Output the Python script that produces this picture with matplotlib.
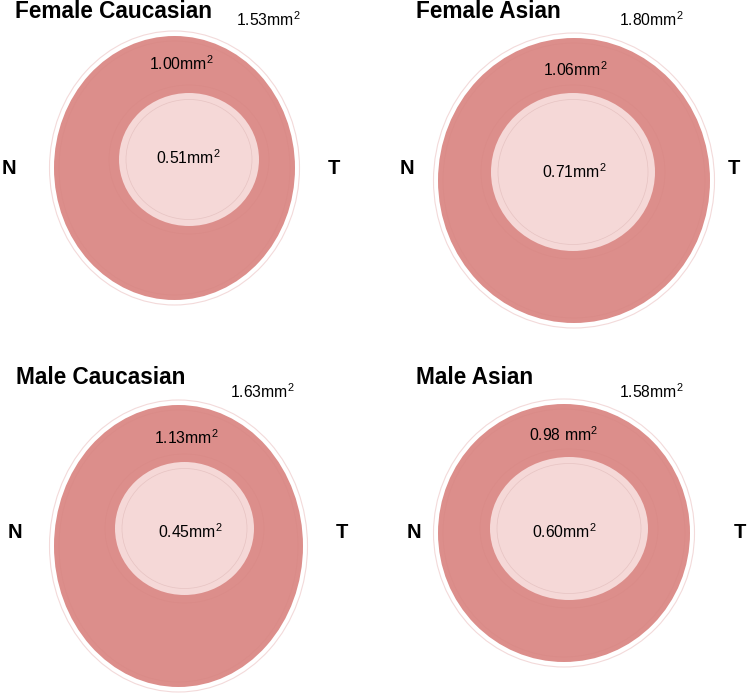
import matplotlib
matplotlib.use("Agg")
import matplotlib.pyplot as plt
from matplotlib.patches import Ellipse

plt.rcParams['font.family'] = ['Liberation Sans', 'DejaVu Sans']
plt.rcParams['mathtext.fontset'] = 'custom'
plt.rcParams['mathtext.rm'] = 'Liberation Sans'
plt.rcParams['mathtext.it'] = 'Liberation Sans'
plt.rcParams['mathtext.bf'] = 'Liberation Sans:bold'

# ---- data ----
titles = ["Female Caucasian", "Female Asian", "Male Caucasian", "Male Asian"]
outer_area = [1.53, 1.80, 1.63, 1.58]
mid_area = [1.00, 1.06, 1.13, 0.98]
inner_area = [0.51, 0.71, 0.45, 0.60]
mid_sep = ["", "", "", " "]
# ellipse widths / heights (px) of filled zone and inner zone
fill_w = [241, 272, 249, 252]
fill_h = [264, 285, 282, 258]
inner_w = [140, 164, 139, 158]
inner_h = [133, 158, 133, 143]

# ---- layout ----
offsets = [(0, 0), (375, 0), (0, 350), (375, 350)]
fill_c = [(174.5, 168), (199, 180.5), (178.5, 196), (189, 183)]
inner_c = [(189, 159.5), (198, 172), (184.5, 178.5), (194, 178.5)]
title_x = [15, 41, 16, 41]
title_y = [12, 12, 28, 28]
outer_lbl = [(268, 20), (276, 20), (262, 42), (276, 42)]
mid_lbl = [(181, 64), (200, 70), (186, 88), (188, 85)]
inner_lbl = [(188, 158), (199, 172), (190, 182), (189, 182)]
N_pos = [(9, 168), (32, 168), (15, 183), (39, 183)]
T_pos = [(334, 168), (359, 168), (342, 183), (365, 183)]

RED = "#DC8E8B"
LIGHT = "#F5D8D7"
LINE = "#F3DADA"
RING = "#D4837F"


def lab(v, sep=""):
    return f"{v:.2f}{sep}mm$^2$"


fig = plt.figure(figsize=(7.5, 6.95), dpi=100)
ax = fig.add_axes([0, 0, 1, 1])
ax.set_xlim(0, 750)
ax.set_ylim(695, 0)
ax.axis("off")

for i in range(4):
    ox, oy = offsets[i]
    fcx, fcy = fill_c[i][0] + ox, fill_c[i][1] + oy
    icx, icy = inner_c[i][0] + ox, inner_c[i][1] + oy
    fw, fh = fill_w[i], fill_h[i]
    iw, ih = inner_w[i], inner_h[i]
    # outer thin outline
    ax.add_patch(Ellipse((fcx, fcy), fw + 9, fh + 10, fc="none", ec=LINE, lw=0.8))
    # filled red zone
    ax.add_patch(Ellipse((fcx, fcy), fw, fh, fc=RED, ec="none"))
    ax.add_patch(Ellipse((fcx, fcy), fw - 10, fh - 10, fc="none", ec=RING, lw=0.5, alpha=0.3))
    # ring around inner
    ax.add_patch(Ellipse((icx, icy), iw + 20, ih + 16, fc="none", ec=RING, lw=0.5, alpha=0.3))
    # inner light zone
    ax.add_patch(Ellipse((icx, icy), iw, ih, fc=LIGHT, ec="none"))
    ax.add_patch(Ellipse((icx, icy), iw - 14, ih - 13, fc="none", ec="#E6C3C2", lw=0.5))

    ax.text(title_x[i] + ox, title_y[i] + oy, titles[i], fontsize=16.3, fontweight="bold",
            ha="left", va="center")
    ax.text(outer_lbl[i][0] + ox, outer_lbl[i][1] + oy, lab(outer_area[i]),
            fontsize=11.3, ha="center", va="center")
    ax.text(mid_lbl[i][0] + ox, mid_lbl[i][1] + oy, lab(mid_area[i], mid_sep[i]),
            fontsize=11.3, ha="center", va="center")
    ax.text(inner_lbl[i][0] + ox, inner_lbl[i][1] + oy, lab(inner_area[i]),
            fontsize=11.3, ha="center", va="center")
    ax.text(N_pos[i][0] + ox, N_pos[i][1] + oy, "N", fontsize=14.5, fontweight="bold",
            ha="center", va="center")
    ax.text(T_pos[i][0] + ox, T_pos[i][1] + oy, "T", fontsize=14.5, fontweight="bold",
            ha="center", va="center")

fig.savefig("out.png", dpi=100, facecolor="white")
